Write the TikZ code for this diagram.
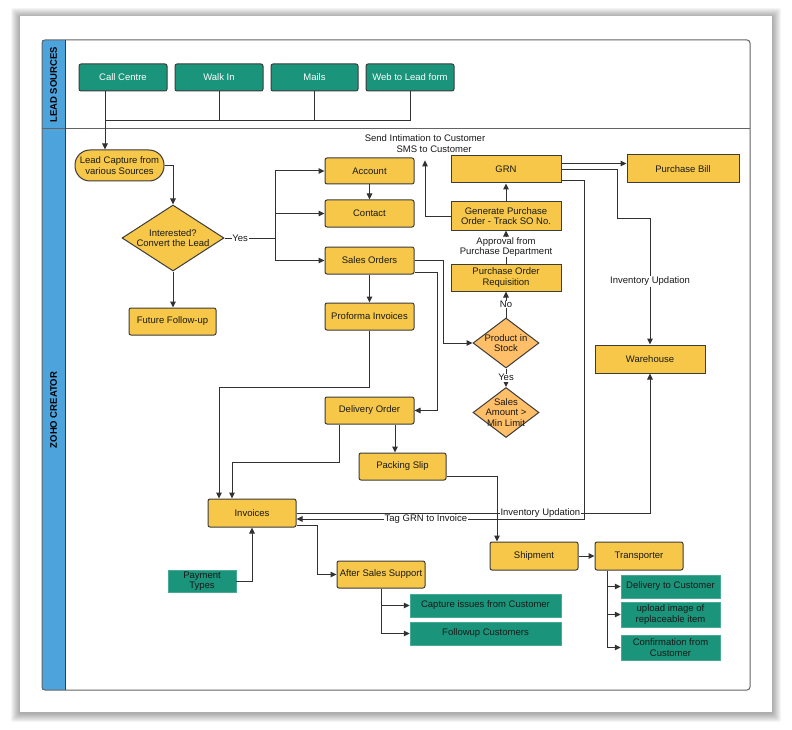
\documentclass[tikz,border=0pt]{standalone}
\usepackage{fontspec}
\setmainfont{Liberation Sans}
\usetikzlibrary{arrows.meta,shapes.geometric}
\definecolor{ybox}{RGB}{246,199,72}
\definecolor{teal}{RGB}{26,148,122}
\definecolor{odia}{RGB}{255,190,104}
\definecolor{bord}{RGB}{60,60,60}
\definecolor{lane}{RGB}{77,163,220}
\definecolor{lcol}{RGB}{50,50,50}
\tikzset{
  x=1pt, y=-1pt,
  txt/.style={font=\fontsize{9.5}{10.3}\selectfont, align=center, inner sep=0pt, text=black!90},
  ybox/.style={txt, draw=bord, fill=ybox, line width=1pt, rounded corners=2pt},
  srcbox/.style={txt, draw=bord, fill=teal, line width=1pt, rounded corners=2pt, text=white},
  gbox/.style={txt, draw=teal!80!white, fill=teal, line width=0.5pt},
  dia/.style={diamond, draw=bord, line width=1pt, inner sep=0pt},
  lbl/.style={txt, fill=white, inner sep=0.6pt},
  conn/.style={draw=lcol, line width=1pt},
  arr/.style={conn, -{Triangle[length=6pt,width=5.5pt]}},
}
\begin{document}
\begin{tikzpicture}
\useasboundingbox (0,0) rectangle (792,730);
\fill[white] (0,0) rectangle (792,730);
% card shadow
\foreach \i in {1,...,9}{
  \fill[black, opacity=0.04, rounded corners=2pt] (20-\i,16-\i+1) rectangle (772+\i,712+\i+1);
}
\fill[white] (20,16) rectangle (772,712);
% frame and lanes
\fill[lane] (42,40) rectangle (65,690);
\draw[draw=bord!80, line width=1pt, rounded corners=3pt] (42,40) rectangle (750,690);
\draw[draw=bord!80, line width=1pt] (42,129) -- (750,129);
\draw[draw=bord, line width=0.8pt] (65,40) -- (65,690);
\node[rotate=90, font=\fontsize{9.5}{10}\selectfont\bfseries, inner sep=0pt] (lanea) at (53.5,85) {LEAD SOURCES};
\node[rotate=90, font=\fontsize{9.5}{10}\selectfont\bfseries, inner sep=0pt] (laneb) at (53.5,410) {ZOHO CREATOR};

% lead sources
\node[srcbox, minimum width=88pt, minimum height=27pt] (callc) at (123,77.5) {Call Centre};
\node[srcbox, minimum width=88pt, minimum height=27pt] (walk) at (219,77.5) {Walk In};
\node[srcbox, minimum width=87pt, minimum height=27pt] (mails) at (314.5,77.5) {Mails};
\node[srcbox, minimum width=88pt, minimum height=27pt] (web) at (410,77.5) {Web to Lead form};

% main nodes
\node[ybox, rounded corners=15pt, minimum width=89pt, minimum height=31pt] (lead) at (119.5,165.5) {Lead Capture from\\various Sources};
\node[dia, fill=ybox, minimum width=102pt, minimum height=66pt] (inter) at (173,238) {};
\node[txt] (intert) at (inter) {Interested?\\Convert the Lead};
\node[ybox, minimum width=87pt, minimum height=27pt] (fut) at (172.5,321.5) {Future Follow-up};
\node[ybox, minimum width=89pt, minimum height=26pt] (acct) at (369.5,171) {Account};
\node[ybox, minimum width=89pt, minimum height=27pt] (cont) at (369.5,213.5) {Contact};
\node[ybox, minimum width=89pt, minimum height=27pt] (sales) at (369.5,260.5) {Sales Orders};
\node[ybox, minimum width=89pt, minimum height=27pt] (prof) at (369.5,316.5) {Proforma Invoices};
\node[ybox, minimum width=89pt, minimum height=27pt] (deliv) at (369.5,410.5) {Delivery Order};
\node[ybox, minimum width=87pt, minimum height=27pt] (pack) at (402.5,466.5) {Packing Slip};
\node[ybox, minimum width=88pt, minimum height=28pt] (inv) at (252,513) {Invoices};
\node[ybox, rounded corners=0pt, minimum width=110pt, minimum height=27pt] (grn) at (506,169.5) {GRN};
\node[ybox, rounded corners=0pt, minimum width=110pt, minimum height=28pt] (genpo) at (506,216) {Generate Purchase\\Order - Track SO No.};
\node[ybox, rounded corners=0pt, minimum width=110pt, minimum height=27pt] (poreq) at (506,277.5) {Purchase Order\\Requisition};
\node[dia, fill=odia, minimum width=66pt, minimum height=50pt] (stock) at (506,343) {};
\node[txt] (stockt) at (stock) {Product in\\Stock};
\node[dia, fill=odia, minimum width=66pt, minimum height=50pt] (samt) at (506,412.5) {};
\node[txt] (samtt) at (samt) {Sales\\Amount >\\Min Limit};
\node[ybox, rounded corners=0pt, minimum width=112pt, minimum height=28pt] (pbill) at (683,169) {Purchase Bill};
\node[ybox, rounded corners=0pt, minimum width=110pt, minimum height=28pt] (ware) at (650,359) {Warehouse};
\node[ybox, minimum width=88pt, minimum height=28pt] (ship) at (534,556) {Shipment};
\node[ybox, minimum width=88pt, minimum height=28pt] (trans) at (639,556) {Transporter};
\node[ybox, minimum width=88pt, minimum height=27pt] (after) at (381,574.5) {After Sales Support};
\node[gbox, minimum width=99pt, minimum height=23pt] (deltc) at (670.5,586.5) {Delivery to Customer};
\node[gbox, minimum width=99pt, minimum height=25pt] (upload) at (670.5,614.5) {upload image of\\replaceable item};
\node[gbox, minimum width=99pt, minimum height=25pt] (confirm) at (670.5,647.5) {Confirmation from\\Customer};
\node[gbox, minimum width=68pt, minimum height=22pt] (pay) at (202,581) {Payment\\Types};
\node[gbox, minimum width=151pt, minimum height=23pt] (capt) at (485.5,605.5) {Capture issues from Customer};
\node[gbox, minimum width=151pt, minimum height=23pt] (follow) at (485.5,633.5) {Followup Customers};
\node[txt] (send) at (425,143.5) {Send Intimation to Customer\\\hspace*{18pt}SMS to Customer};

% lead source connectors
\coordinate (busL) at (105,121);
\draw[conn] (walk.south) |- (busL);
\draw[conn] (mails.south) -- (mails.south |- busL);
\draw[conn] (web.south) |- (busL);
\draw[arr] (callc.south -| busL) -- (lead.north -| busL);

% left flow
\draw[arr] (lead.east) -| (inter.north);
\draw[arr] (inter.south) -- (inter.south |- fut.north);
\coordinate (yesj) at (275,238);
\draw[conn] (inter.east) -- node[lbl, pos=0.31]{Yes} (yesj);
\draw[arr] (yesj) |- (acct.west);
\draw[arr] (yesj) |- (cont.west);
\draw[arr] (yesj) |- (sales.west);
\draw[arr] (acct.south) -- (cont.north);
\draw[arr] (sales.south) -- (prof.north);
\draw[arr] (prof.south) -- ++(0,56.5) -| ([xshift=-33pt]inv.north);
\draw[arr] ([xshift=-30.5pt]deliv.south) -- ++(0,38) -| ([xshift=-20pt]inv.north);
\draw[arr] ([xshift=25.5pt]deliv.south) -- ([xshift=25.5pt]deliv.south |- pack.north);
\draw[arr] (sales.east) -- ++(29,0) |- (stock.west);
\draw[arr] ([yshift=-12pt]sales.east) -- ++(23,0) |- (deliv.east);

% purchase flow
\draw[arr] (stock.north) -- node[lbl]{No} (poreq.south);
\draw[arr] (stock.south) -- node[lbl]{Yes} (samt.north);
\draw[arr] (poreq.north) -- node[lbl]{Approval from\\Purchase Department} (genpo.south);
\draw[arr] (genpo.north) -- (grn.south);
\draw[arr] (genpo.west) -| ([yshift=-8pt]send.south);
\draw[arr] ([yshift=6pt]grn.east) -- ([yshift=6pt]grn.east -| pbill.west);
\draw[arr] ([yshift=-0.5pt]grn.east) -- (617,170) -- (617,218.5) -| node[lbl, pos=0.75]{Inventory Updation} (ware.north);
\draw[arr] ([yshift=-11.5pt]grn.east) -- (584,181) -- (584,519) -- node[lbl, pos=0.55]{Tag GRN to Invoice} ([yshift=-6pt]inv.east);
\draw[arr] (inv.east) -| node[lbl, pos=0.345]{Inventory Updation} (ware.south);

% bottom flow
\draw[arr] ([yshift=-10pt]pack.east) -| ([xshift=-37pt]ship.north);
\draw[arr] (ship.east) -- (trans.west);
\draw[arr] ([xshift=-32pt]trans.south) |- (deltc.west);
\draw[arr] ([xshift=-32pt]trans.south) |- (upload.west);
\draw[arr] ([xshift=-32pt]trans.south) |- (confirm.west);
\draw[arr] ([yshift=-12pt]inv.east) -- ++(21,0) |- (after.west);
\draw[arr] (pay.east) -| (inv.south);
\draw[arr] (after.south) |- (capt.west);
\draw[arr] (after.south) |- (follow.west);
\end{tikzpicture}
\end{document}
